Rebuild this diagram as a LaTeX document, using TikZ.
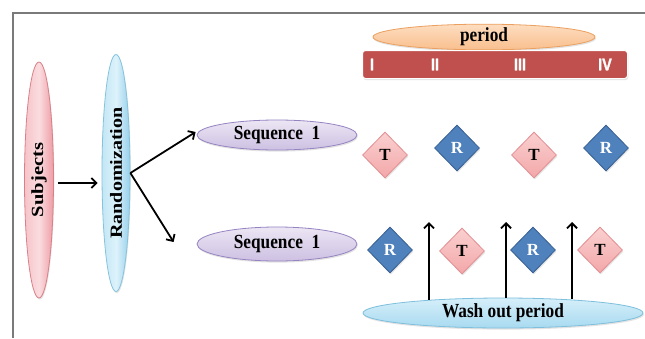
\documentclass[tikz,border=0pt]{standalone}
\usepackage{fontspec}
\setmainfont{Liberation Serif}
\newfontfamily\numfont[FakeBold=1.5]{Liberation Sans}
\usetikzlibrary{shapes.geometric,arrows.meta,calc,shadows}
\definecolor{framegray}{HTML}{7A7A7A}
\definecolor{pinkL}{HTML}{F5C4C9}
\definecolor{pinkM}{HTML}{FADCDF}
\definecolor{pinkR}{HTML}{EE9CA4}
\definecolor{pinkB}{HTML}{D98088}
\definecolor{blueL}{HTML}{C2E6F5}
\definecolor{blueM}{HTML}{DDF2FB}
\definecolor{blueR}{HTML}{96D0EA}
\definecolor{blueB}{HTML}{86C4DE}
\definecolor{lilT}{HTML}{ECE6F4}
\definecolor{lilB}{HTML}{CDC0E2}
\definecolor{lilE}{HTML}{9684C2}
\definecolor{peachT}{HTML}{FDDDC0}
\definecolor{peachB}{HTML}{F9BF8E}
\definecolor{peachE}{HTML}{EBA060}
\definecolor{barred}{HTML}{C0504D}
\definecolor{tT}{HTML}{FAD0D0}
\definecolor{tB}{HTML}{F3A7A9}
\definecolor{tE}{HTML}{E38E92}
\definecolor{rF}{HTML}{4F81BD}
\definecolor{rE}{HTML}{375F91}
\definecolor{washT}{HTML}{D6EFFA}
\definecolor{washB}{HTML}{A8DAF0}
\definecolor{washE}{HTML}{7DBFDC}
\newcommand{\bigtxt}{\fontsize{16}{18}\selectfont\bfseries}
\newcommand{\vtxt}{\fontsize{17}{19}\selectfont\bfseries}
\newcommand{\strl}[2]{\scalebox{#1}[1]{#2}}
\newcommand{\hstr}[1]{\scalebox{1.08}[1.25]{#1}}
\begin{document}
\begin{tikzpicture}[x=1pt,y=-1pt,
  frameline/.style={draw=framegray, line width=1.1pt},
  softshadow/.style={drop shadow={opacity=0.22, shadow xshift=0.8pt, shadow yshift=-1.6pt}},
  ell/.style={ellipse, inner sep=0pt, line width=0.8pt, font=\bigtxt, text=black, softshadow},
  subjstyle/.style={ell, draw=pinkB, left color=pinkL, right color=pinkR, middle color=pinkM},
  randstyle/.style={ell, draw=blueB, left color=blueL, right color=blueR, middle color=blueM},
  seqstyle/.style={ell, draw=lilE, top color=lilT, bottom color=lilB},
  perstyle/.style={ell, draw=peachE, top color=peachT, bottom color=peachB},
  washstyle/.style={ell, draw=washE, top color=washT, bottom color=washB},
  dia/.style={diamond, aspect=1, inner sep=0pt, minimum width=45pt, minimum height=46pt, line width=0.8pt, font=\fontsize{17}{19}\selectfont\bfseries, softshadow},
  tdia/.style={dia, draw=tE, top color=tT, bottom color=tB, text=black},
  rdia/.style={dia, draw=rE, fill=rF, text=white},
  num/.style={font=\numfont\fontsize{17}{19}\selectfont\bfseries, text=white, inner sep=0pt},
  arr/.style={draw=black, line width=1.8pt, -{Straight Barb[length=5pt,width=10pt,line width=1.8pt]}}
]
\useasboundingbox (0,0) rectangle (645,338);
\fill[white] (0,0) rectangle (645,338);
% frame
\draw[frameline] (12,13) -- (645,13);
\draw[frameline] (13,13) -- (13,338);

% left ellipses
\node[subjstyle, minimum width=29pt, minimum height=236pt, font=\vtxt] (subj) at (39,180)
  {\rotatebox{90}{\strl{1.21}{Subjects}}};
\node[randstyle, minimum width=28pt, minimum height=237pt, font=\vtxt] (rand) at (116,173)
  {\rotatebox{90}{\strl{1.18}{Randomization}}};

% sequences
\node[seqstyle, minimum width=160pt, minimum height=30pt] (seq1) at (277,135) {\hstr{Sequence\ \ 1}};
\node[seqstyle, minimum width=160pt, minimum height=34pt] (seq2) at (277,244) {\hstr{Sequence\ \ 1}};

% period header
\node[perstyle, minimum width=222pt, minimum height=20pt] (per) at (484,37) {\hstr{period}};
\node[rectangle, rounded corners=3pt, fill=barred, draw=white, line width=1pt,
      minimum width=265pt, minimum height=28pt, inner sep=0pt, softshadow] (bar) at (495,64.5) {};
\node[num] (n1) at (372,64.5) {\strl{0.85}{I}};
\node[num] (n2) at (435,64.5) {\strl{0.85}{II}};
\node[num] (n3) at (520,64.5) {\strl{0.85}{III}};
\node[num] (n4) at (605,64.5) {\strl{0.85}{IV}};

% diamonds, sequence 1 row
\node[tdia] (t1) at (385,155) {T};
\node[rdia] (r1) at (457,148) {R};
\node[tdia] (t2) at (534,155) {T};
\node[rdia] (r2) at (606,148) {R};
% diamonds, sequence 2 row
\node[rdia] (r3) at (390,250) {R};
\node[tdia] (t3) at (462,251) {T};
\node[rdia] (r4) at (533,250) {R};
\node[tdia] (t4) at (600,250) {T};

% wash out
\node[washstyle, minimum width=280pt, minimum height=30pt] (wash) at (503,313) {\hstr{Wash out period}};

% arrow tips of wash-out arrows
\coordinate (w1) at (429,222);
\coordinate (w2) at (506,222);
\coordinate (w3) at (572,222);

% connectors
\draw[arr] ($(subj.east)+(4,3)$) -- ($(rand.west)+(-4,10)$);
\draw[arr] (rand.east) -- ($(seq1.west)+(-1,-3)$);
\draw[arr] (rand.east) -- ($(seq2.west)+(-23,-2)$);
\draw[arr] ($(wash.north -| w1)+(0,2)$) -- (w1);
\draw[arr] ($(wash.north -| w2)+(0,0)$) -- (w2);
\draw[arr] ($(wash.north -| w3)+(0,1)$) -- (w3);
\end{tikzpicture}
\end{document}
